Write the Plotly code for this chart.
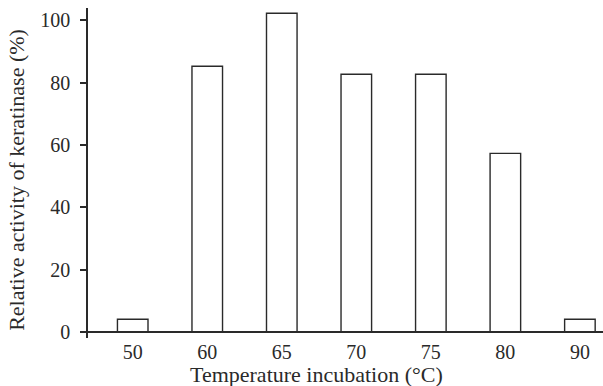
import plotly.graph_objects as go

categories = ["50", "60", "65", "70", "75", "80", "90"]
activity = [4, 85.3, 102.3, 82.7, 82.7, 57.3, 4]
y_ticks = [0, 20, 40, 60, 80, 100]

ink = "#2a2a2a"
font_family = "Liberation Serif, Times New Roman, serif"

fig = go.Figure()
fig.add_trace(go.Bar(
    x=list(range(len(categories))),
    y=activity,
    width=0.41,
    marker=dict(color="white", line=dict(color=ink, width=1.4)),
))

fig.update_layout(
    width=603, height=386,
    margin=dict(l=88, r=0, t=8, b=48, autoexpand=False),
    paper_bgcolor="white", plot_bgcolor="white",
    showlegend=False,
    font=dict(family=font_family, size=20, color=ink),
    xaxis=dict(
        tickmode="array",
        tickvals=list(range(len(categories))),
        ticktext=categories,
        range=[-0.6, 6.31],
        showgrid=False, showline=False, zeroline=False,
        ticks="",
        tickfont=dict(size=20),
        automargin=False,
    ),
    yaxis=dict(
        range=[-2, 104],
        tickvals=y_ticks,
        showgrid=False,
        showline=True, linecolor=ink, linewidth=1.5,
        zeroline=True, zerolinecolor=ink, zerolinewidth=1.5,
        ticks="outside", ticklen=6, tickcolor=ink, tickwidth=1.5,
        tickfont=dict(size=20),
        ticklabelstandoff=6,
        automargin=False,
    ),
    annotations=[
        dict(text="Temperature incubation (°C)", xref="paper", yref="paper",
             x=0.4437, y=-0.112, xanchor="center", yanchor="middle",
             showarrow=False, font=dict(size=22, family=font_family, color=ink)),
        dict(text="Relative activity of keratinase (%)", xref="paper", yref="paper",
             x=-0.138, y=0.479, xanchor="center", yanchor="middle", textangle=-90,
             showarrow=False, font=dict(size=22, family=font_family, color=ink)),
    ],
)

fig.write_html(
    "out.html",
    config={"displayModeBar": False},
    post_script="document.body.style.margin='0';document.body.style.padding='0';",
)
